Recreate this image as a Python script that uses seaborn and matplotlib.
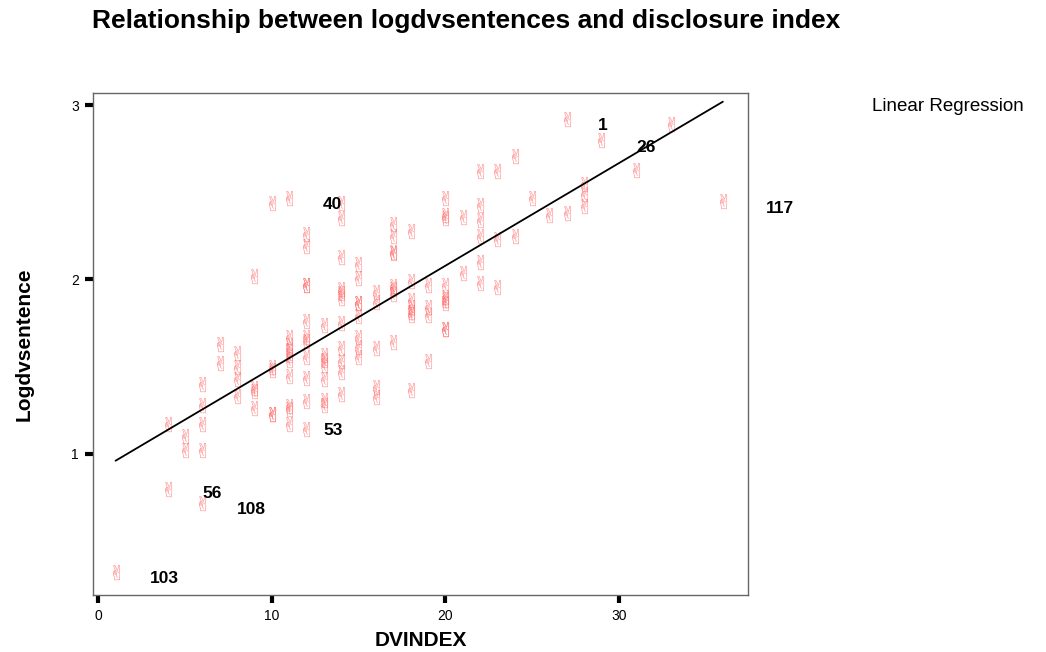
import matplotlib
matplotlib.use("Agg")
import matplotlib.pyplot as plt
import seaborn as sns
import pandas as pd

# ---- data ----
dvindex = (
    [1] + [4] * 2 + [5] * 2 + [6] * 5 + [7] * 2 + [8] * 4 + [9] * 4 + [10] * 5
    + [11] * 10 + [12] * 11 + [13] * 7 + [14] * 11 + [15] * 8 + [16] * 5
    + [17] * 8 + [18] * 7 + [19] * 4 + [20] * 9 + [21] * 2 + [22] * 6
    + [23] * 3 + [24] * 2 + [25] + [26] + [27] * 2 + [28] * 3 + [29] + [31]
    + [33] + [36]
)
logdvsentence = [
    0.32,
    1.17, 0.80,
    1.10, 1.02,
    1.40, 1.28, 1.17, 1.02, 0.72,
    1.63, 1.52,
    1.58, 1.50, 1.43, 1.33,
    2.02, 1.38, 1.36, 1.26,
    2.44, 1.50, 1.48, 1.23, 1.23,
    2.47, 1.67, 1.625, 1.596, 1.567, 1.539, 1.447, 1.275, 1.256, 1.17,
    2.26, 2.19, 1.97, 1.97, 1.76, 1.67, 1.65, 1.554, 1.434, 1.305, 1.14,
    1.74, 1.567, 1.539, 1.51, 1.43, 1.31, 1.28,
    2.44, 2.35, 2.13, 1.944, 1.921, 1.892, 1.752, 1.606, 1.53, 1.47, 1.344,
    2.09, 2.01, 1.864, 1.864, 1.79, 1.669, 1.611, 1.554,
    1.93, 1.87, 1.606, 1.386, 1.328,
    2.32, 2.25, 2.16, 2.15, 1.963, 1.944, 1.915, 1.644,
    2.28, 1.993, 1.883, 1.844, 1.815, 1.797, 1.367,
    1.968, 1.84, 1.797, 1.53,
    2.47, 2.37, 2.35, 1.968, 1.90, 1.883, 1.864, 1.715, 1.715,
    2.36, 2.04,
    2.62, 2.43, 2.34, 2.25, 2.10, 1.98,
    2.62, 2.23, 1.955,
    2.71, 2.25,
    2.47,
    2.37,
    2.92, 2.38,
    2.55, 2.49, 2.42,
    2.80,
    2.63,
    2.89,
    2.45,
]
case_labels = ["1", "26", "40", "53", "56", "108", "103", "117"]
case_label_x = [29.07, 31.55, 13.51, 13.53, 6.54, 8.84, 3.79, 39.3]
case_label_y = [2.883, 2.76, 2.43, 1.136, 0.77, 0.683, 0.286, 2.41]

x_ticks = [0, 10, 20, 30]
y_ticks = [1, 2, 3]

title = "Relationship between logdvsentences and disclosure index"
x_label = "DVINDEX"
y_label = "Logdvsentence"
legend_text = "Linear Regression"

df = pd.DataFrame({"DVINDEX": dvindex, "Logdvsentence": logdvsentence})

# ---- style ----
sns.set_style("white")
plt.rcParams["font.family"] = ["Liberation Sans", "DejaVu Sans"]
plt.rcParams["text.color"] = "black"
plt.rcParams["axes.labelcolor"] = "black"
plt.rcParams["xtick.color"] = "black"
plt.rcParams["ytick.color"] = "black"

fig = plt.figure(figsize=(10.46, 6.52), dpi=100)
ax = fig.add_axes([0.0889, 0.0874, 0.6262, 0.7700])

sns.scatterplot(
    data=df, x="DVINDEX", y="Logdvsentence", ax=ax,
    marker="$\u270C$", s=120, color="#ff5c5c", alpha=0.7, linewidth=0,
)
sns.regplot(
    data=df, x="DVINDEX", y="Logdvsentence", ax=ax, scatter=False, ci=None,
    color="black", line_kws={"lw": 1.3},
)

for lab, lx, ly in zip(case_labels, case_label_x, case_label_y):
    ax.text(lx, ly, lab, fontsize=12.5, fontweight="bold", ha="center",
            va="center", clip_on=False, color="black")

ax.set_xlim(-0.3, 37.45)
ax.set_ylim(0.19, 3.07)
ax.set_xticks(x_ticks)
ax.set_yticks(y_ticks)
ax.set_xticklabels([str(t) for t in x_ticks], fontsize=10)
ax.set_yticklabels([str(t) for t in y_ticks], fontsize=10)
ax.tick_params(axis="both", direction="out", length=6, width=3,
               color="black", pad=4, left=True, bottom=True)

for sp in ax.spines.values():
    sp.set_visible(True)
    sp.set_color("#666666")
    sp.set_linewidth(1.0)

ax.set_xlabel(x_label, fontsize=15, fontweight="bold", labelpad=6)
ax.set_ylabel(y_label, fontsize=15, fontweight="bold", labelpad=27,
              family=["Liberation Sans Narrow", "Liberation Sans", "DejaVu Sans"])

fig.text(0.088, 0.968, title, fontsize=19, fontweight="bold",
         ha="left", va="center")
fig.text(0.834, 0.836, legend_text, fontsize=13.5, ha="left", va="center")

fig.savefig("out.png", dpi=100)
